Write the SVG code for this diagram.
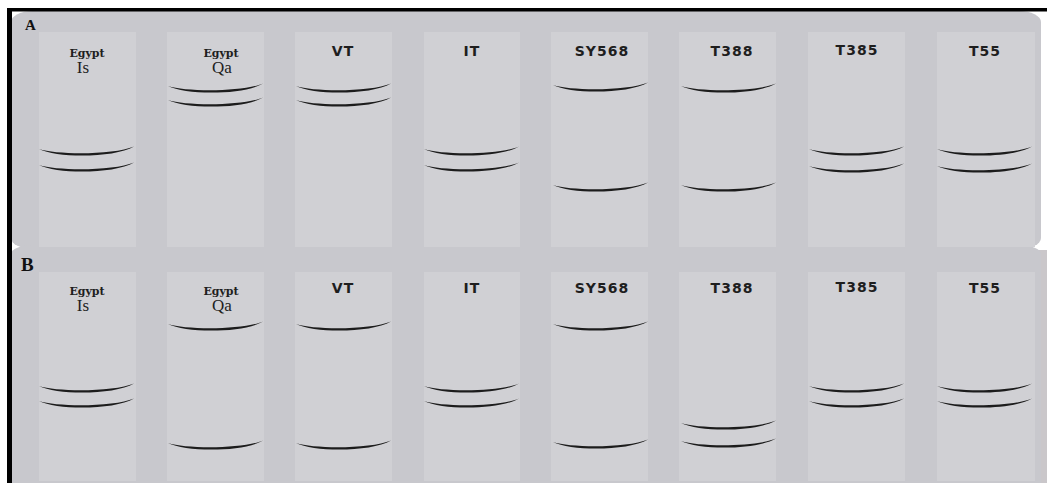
<svg xmlns="http://www.w3.org/2000/svg" xmlns:xlink="http://www.w3.org/1999/xlink" width="1047" height="483" viewBox="0 0 1047 483">
<style>
.panel{fill:#c8c8cd}
.lane{fill:#d0d0d4}
.lbl{font-family:"DejaVu Sans",sans-serif;font-weight:bold;font-size:14px;letter-spacing:1px;fill:#1e1e1e;text-anchor:middle}
.eg{font-family:"DejaVu Serif",serif;font-weight:bold;font-size:11px;fill:#1e1e1e;text-anchor:middle}
.sub{font-family:"Liberation Serif",serif;font-size:17px;fill:#1e1e1e;text-anchor:middle}
.pl{font-family:"Liberation Serif",serif;font-weight:bold;fill:#111}
.band{fill:#1c1c1c}
</style>
<defs>
<path id="band" d="M0,-6 C18,0 75,0 95,-8.5 C75,3.2 18,3.2 0,-6 Z"/>
</defs>
<rect width="1047" height="483" fill="#ffffff"/>
<rect x="1030" y="250" width="17" height="233" fill="#cac7ca"/>
<rect class="panel" x="11" y="11" width="1030" height="238" rx="22" ry="11"/>
<rect class="panel" x="11" y="245" width="1030" height="260" rx="22" ry="9"/>
<rect x="7" y="8" width="1040" height="3.5" fill="#000"/>
<rect x="7" y="8" width="5" height="475" fill="#000"/>
<text class="pl" x="25" y="30" font-size="15">A</text>
<text class="pl" x="21" y="271" font-size="19">B</text>

<g id="lanesA">
<g id="A1"><rect class="lane" x="39" y="32" width="97" height="215"/>
<text class="eg" x="87" y="57">Egypt</text><text class="sub" x="83" y="73">Is</text>
<use xlink:href="#band" class="band" x="39" y="155"/><use xlink:href="#band" class="band" x="39" y="171"/></g>
<g id="A2"><rect class="lane" x="167" y="32" width="97" height="215"/>
<text class="eg" x="221" y="57">Egypt</text><text class="sub" x="222" y="73">Qa</text>
<use xlink:href="#band" class="band" x="168" y="92"/><use xlink:href="#band" class="band" x="168" y="106"/></g>
<g id="A3"><rect class="lane" x="295" y="32" width="97" height="215"/>
<text class="lbl" x="343" y="56">VT</text>
<use xlink:href="#band" class="band" x="296" y="92"/><use xlink:href="#band" class="band" x="296" y="106"/></g>
<g id="A4"><rect class="lane" x="424" y="32" width="96" height="215"/>
<text class="lbl" x="472" y="56">IT</text>
<use xlink:href="#band" class="band" x="424" y="155"/><use xlink:href="#band" class="band" x="424" y="171"/></g>
<g id="A5"><rect class="lane" x="551" y="32" width="97" height="215"/>
<text class="lbl" x="602" y="56">SY568</text>
<use xlink:href="#band" class="band" x="553" y="91"/><use xlink:href="#band" class="band" x="553" y="191"/></g>
<g id="A6"><rect class="lane" x="679" y="32" width="97" height="215"/>
<text class="lbl" x="732" y="56">T388</text>
<use xlink:href="#band" class="band" x="681" y="92"/><use xlink:href="#band" class="band" x="681" y="191"/></g>
<g id="A7"><rect class="lane" x="808" y="32" width="97" height="215"/>
<text class="lbl" x="857" y="55">T385</text>
<use xlink:href="#band" class="band" x="809" y="155"/><use xlink:href="#band" class="band" x="809" y="172"/></g>
<g id="A8"><rect class="lane" x="937" y="32" width="98" height="215"/>
<text class="lbl" x="985" y="56">T55</text>
<use xlink:href="#band" class="band" x="937" y="155"/><use xlink:href="#band" class="band" x="937" y="172"/></g>
</g>

<g id="lanesB">
<g id="B1"><rect class="lane" x="39" y="272" width="97" height="209"/>
<text class="eg" x="87" y="295">Egypt</text><text class="sub" x="83" y="311">Is</text>
<use xlink:href="#band" class="band" x="39" y="392"/><use xlink:href="#band" class="band" x="39" y="407"/></g>
<g id="B2"><rect class="lane" x="167" y="272" width="97" height="209"/>
<text class="eg" x="221" y="295">Egypt</text><text class="sub" x="222" y="311">Qa</text>
<use xlink:href="#band" class="band" x="168" y="330"/><use xlink:href="#band" class="band" x="168" y="449"/></g>
<g id="B3"><rect class="lane" x="295" y="272" width="97" height="209"/>
<text class="lbl" x="343" y="293">VT</text>
<use xlink:href="#band" class="band" x="296" y="330"/><use xlink:href="#band" class="band" x="296" y="449"/></g>
<g id="B4"><rect class="lane" x="424" y="272" width="96" height="209"/>
<text class="lbl" x="472" y="293">IT</text>
<use xlink:href="#band" class="band" x="424" y="392"/><use xlink:href="#band" class="band" x="424" y="407"/></g>
<g id="B5"><rect class="lane" x="551" y="272" width="97" height="209"/>
<text class="lbl" x="602" y="293">SY568</text>
<use xlink:href="#band" class="band" x="553" y="330"/><use xlink:href="#band" class="band" x="553" y="448"/></g>
<g id="B6"><rect class="lane" x="679" y="272" width="97" height="209"/>
<text class="lbl" x="732" y="293">T388</text>
<use xlink:href="#band" class="band" x="681" y="429"/><use xlink:href="#band" class="band" x="681" y="447"/></g>
<g id="B7"><rect class="lane" x="808" y="272" width="97" height="209"/>
<text class="lbl" x="857" y="292">T385</text>
<use xlink:href="#band" class="band" x="809" y="392"/><use xlink:href="#band" class="band" x="809" y="407"/></g>
<g id="B8"><rect class="lane" x="937" y="272" width="98" height="209"/>
<text class="lbl" x="985" y="293">T55</text>
<use xlink:href="#band" class="band" x="937" y="392"/><use xlink:href="#band" class="band" x="937" y="407"/></g>
</g>
<g id="connectors"/>
</svg>
